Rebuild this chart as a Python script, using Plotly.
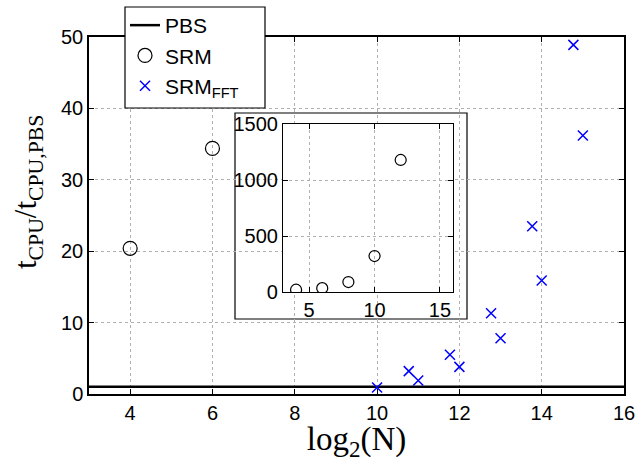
import plotly.graph_objects as go

# PBS reference (ratio = 1)
pbs_n = [3, 16]
pbs_ratio = [1, 1]

# SRM (main panel, within range)
srm_n = [4, 6]
srm_ratio = [20.4, 34.4]

# SRM FFT
fft_n = [10, 10.77, 11, 11.77, 12, 12.77, 13, 13.77, 14, 14.77, 15]
fft_ratio = [0.9, 3.2, 1.9, 5.5, 3.8, 11.3, 7.8, 23.5, 15.9, 48.9, 36.2]

# inset: SRM full range
inset_n = [4, 6, 8, 10, 12]
inset_ratio = [20.4, 34.4, 89, 321, 1179]

x_ticks = [4, 6, 8, 10, 12, 14, 16]
y_ticks = [0, 10, 20, 30, 40, 50]
inset_x_ticks = [5, 10, 15]
inset_y_ticks = [0, 500, 1000, 1500]

W, H = 642, 462
ml, mr, mt, mb = 89, 18, 37, 68
pw, ph = W - ml - mr, H - mt - mb

def px_to_paper_x(p):
    return (p - ml) / pw

def px_to_paper_y(p):
    return (H - mb - p) / ph

sans = "Liberation Sans, Arial, sans-serif"
tick_font = dict(family=sans, size=20, color="black")
serif = "Liberation Serif, Times New Roman, serif"

fig = go.Figure()
fig.add_trace(go.Scatter(x=pbs_n, y=pbs_ratio, mode="lines", name="PBS",
                         line=dict(color="black", width=2.5)))
fig.add_trace(go.Scatter(x=srm_n, y=srm_ratio, mode="markers", name="SRM",
                         marker=dict(symbol="circle-open", size=14, color="black",
                                     line=dict(width=1.2, color="black"))))
fig.add_trace(go.Scatter(x=fft_n, y=fft_ratio, mode="markers", name="SRM<sub>FFT</sub>",
                         marker=dict(symbol="x-thin-open", size=10, color="blue",
                                     line=dict(width=1.5, color="blue"))))
fig.add_trace(go.Scatter(x=inset_n, y=inset_ratio, mode="markers", showlegend=False,
                         xaxis="x2", yaxis="y2",
                         marker=dict(symbol="circle-open", size=11, color="black",
                                     line=dict(width=1.2, color="black"))))

grid = dict(showgrid=True, gridcolor="#b0b0b0", griddash="dot", gridwidth=1,
            zeroline=False, showline=True, linecolor="black", mirror="allticks",
            ticks="inside", ticklen=5, tickcolor="black", tickfont=tick_font)

fig.update_layout(
    width=W, height=H,
    margin=dict(l=ml, r=mr, t=mt, b=mb, autoexpand=False),
    paper_bgcolor="white", plot_bgcolor="white",
    xaxis=dict(range=[3, 16], tickvals=x_ticks, linewidth=1.5,
               title=dict(text="log<sub>2</sub>(N)", font=dict(family=serif, size=33, color="black"),
                          standoff=3),
               **grid),
    yaxis=dict(range=[0, 50], tickvals=y_ticks, linewidth=1.5, **grid),
    xaxis2=dict(domain=[px_to_paper_x(283), px_to_paper_x(453)], anchor="y2",
                range=[3, 16], tickvals=inset_x_ticks, linewidth=1.2, **grid),
    yaxis2=dict(domain=[px_to_paper_y(292), px_to_paper_y(124)], anchor="x2",
                range=[0, 1500], tickvals=inset_y_ticks, linewidth=1.2, **grid),
    legend=dict(x=px_to_paper_x(125), y=px_to_paper_y(5), xanchor="left", yanchor="top",
                bgcolor="rgba(0,0,0,0)", borderwidth=0,
                font=dict(family=sans, size=21, color="black"),
                tracegroupgap=0, itemwidth=30),
    showlegend=True,
)

# y-axis label placed as rotated text
fig.add_annotation(text="t<sub>CPU</sub>/t<sub>CPU,PBS</sub>", textangle=-90,
                   xref="paper", yref="paper", x=px_to_paper_x(28), y=px_to_paper_y(192),
                   xanchor="center", yanchor="middle", showarrow=False,
                   font=dict(family=serif, size=31, color="black"))

# white box behind inset (above main grid)
def dx(p):
    return 3 + (p - ml) / pw * 13

def dy(p):
    return (H - mb - p) / ph * 50

fig.add_shape(type="rect", xref="x", yref="y", layer="below",
              x0=dx(235), x1=dx(467), y0=dy(319), y1=dy(113),
              fillcolor="white", line=dict(color="black", width=1.2))

# legend frame
fig.add_shape(type="rect", xref="paper", yref="paper", layer="above",
              x0=px_to_paper_x(125), x1=px_to_paper_x(265),
              y0=px_to_paper_y(108), y1=px_to_paper_y(7),
              fillcolor="white", line=dict(color="black", width=1.2))

fig.write_html("out.html", config={"displayModeBar": False},
               post_script="document.body.style.margin='0';")
